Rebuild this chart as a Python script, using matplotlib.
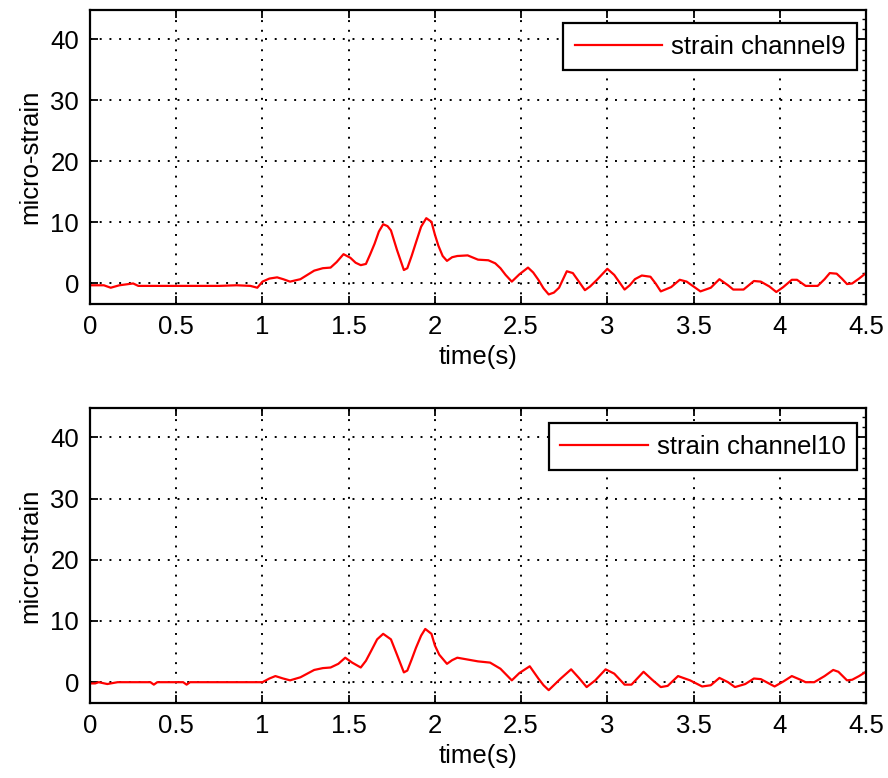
import matplotlib
matplotlib.use("Agg")
import matplotlib.pyplot as plt
from matplotlib.ticker import MultipleLocator

plt.rcParams['font.family'] = ['Liberation Sans', 'DejaVu Sans']

t9 = [0.00, 0.08, 0.12, 0.17, 0.25, 0.28, 0.5, 0.75, 0.85, 0.93, 0.97, 1.00, 1.04, 1.085, 1.12,
      1.16, 1.22, 1.26, 1.30, 1.35, 1.395, 1.43, 1.47, 1.51, 1.54, 1.57, 1.60, 1.625, 1.65, 1.675,
      1.70, 1.725, 1.745, 1.78, 1.82, 1.84, 1.865, 1.89, 1.92, 1.95, 1.98, 2.0, 2.02, 2.045, 2.07,
      2.10, 2.13, 2.19, 2.25, 2.31, 2.35, 2.38, 2.41, 2.446, 2.49, 2.54, 2.57, 2.60, 2.63, 2.66,
      2.69, 2.72, 2.745, 2.765, 2.80, 2.835, 2.87, 2.90, 2.94, 2.97, 3.0, 3.04, 3.07, 3.1, 3.13,
      3.16, 3.2, 3.25, 3.28, 3.31, 3.37, 3.42, 3.46, 3.5, 3.54, 3.6, 3.65, 3.7, 3.73, 3.79,
      3.85, 3.89, 3.94, 3.98, 4.02, 4.07, 4.1, 4.15, 4.22, 4.26, 4.29, 4.33, 4.36, 4.39, 4.42,
      4.46, 4.5]
y9 = [-0.3, -0.3, -0.7, -0.3, 0.0, -0.4, -0.4, -0.4, -0.3, -0.4, -0.7, 0.3, 0.8, 1.0, 0.7,
      0.3, 0.7, 1.4, 2.1, 2.5, 2.6, 3.5, 4.8, 4.2, 3.4, 3.0, 3.2, 4.8, 6.5, 8.5,
      9.7, 9.4, 8.7, 5.5, 2.2, 2.5, 4.5, 6.7, 9.3, 10.7, 10.1, 8.0, 6.2, 4.5, 3.7,
      4.3, 4.5, 4.6, 3.9, 3.8, 3.3, 2.5, 1.4, 0.3, 1.5, 2.6, 1.8, 0.6, -0.8, -1.8,
      -1.5, -0.7, 0.8, 2.0, 1.7, 0.3, -1.1, -0.5, 0.6, 1.5, 2.4, 1.4, 0.2, -1.0, -0.3,
      0.7, 1.3, 1.1, 0.0, -1.3, -0.6, 0.6, 0.3, -0.5, -1.3, -0.7, 0.7, -0.3, -1.0, -1.0,
      0.4, 0.3, -0.5, -1.4, -0.6, 0.6, 0.6, -0.4, -0.4, 0.7, 1.7, 1.6, 0.8, -0.1, 0.0,
      0.8, 1.7]

t10 = [0.0, 0.03, 0.05, 0.1, 0.16, 0.35, 0.37, 0.39, 0.54, 0.56, 0.58, 1.0, 1.04, 1.075, 1.12,
       1.16, 1.22, 1.26, 1.30, 1.35, 1.395, 1.44, 1.48, 1.52, 1.57, 1.60, 1.63, 1.665, 1.70, 1.745,
       1.78, 1.82, 1.84, 1.865, 1.89, 1.92, 1.944, 1.98, 2.0, 2.025, 2.07, 2.10, 2.13, 2.19, 2.25,
       2.32, 2.38, 2.446, 2.49, 2.55, 2.60, 2.63, 2.66, 2.73, 2.79, 2.835, 2.88, 2.93, 2.99, 3.04,
       3.1, 3.14, 3.21, 3.26, 3.31, 3.35, 3.41, 3.48, 3.55, 3.6, 3.65, 3.7, 3.74, 3.8, 3.85,
       3.89, 3.97, 4.02, 4.07, 4.12, 4.15, 4.2, 4.26, 4.31, 4.34, 4.39, 4.42, 4.46, 4.5]
y10 = [-0.2, -0.2, 0.0, -0.3, 0.0, 0.0, -0.4, 0.0, 0.0, -0.4, 0.0, 0.0, 0.6, 1.0, 0.6,
       0.3, 0.8, 1.4, 2.0, 2.3, 2.4, 3.0, 4.0, 3.2, 2.4, 3.5, 5.1, 7.0, 7.9, 7.0,
       4.5, 1.6, 1.9, 3.7, 5.6, 7.6, 8.7, 7.9, 6.0, 4.5, 3.0, 3.6, 4.0, 3.7, 3.4,
       3.2, 2.2, 0.3, 1.5, 2.6, 0.6, -0.5, -1.3, 0.6, 2.1, 0.7, -0.8, 0.3, 2.1, 1.4,
       -0.4, -0.4, 1.7, 0.4, -0.8, -0.6, 1.0, 0.3, -0.7, -0.5, 0.7, 0.0, -0.8, -0.3, 0.6,
       0.5, -0.7, 0.1, 1.0, 0.4, 0.0, 0.0, 1.0, 2.0, 1.7, 0.3, 0.4, 1.0, 1.7]

xticks = [0, 0.5, 1, 1.5, 2, 2.5, 3, 3.5, 4, 4.5]
xticklabels = ['0', '0.5', '1', '1.5', '2', '2.5', '3', '3.5', '4', '4.5']
yticks = [0, 10, 20, 30, 40]

series = [(t9, y9, 'strain channel9'), (t10, y10, 'strain channel10')]
boxes = [(0.1014, 0.609, 0.8738, 0.378), (0.1014, 0.0964, 0.8738, 0.3792)]
leg_y = [0.956, 0.949]

fig = plt.figure(figsize=(8.88, 7.78), dpi=100)
for (t, y, lab), box, ly in zip(series, boxes, leg_y):
    ax = fig.add_axes(box)
    ax.plot(t, y, color='#ff0000', lw=1.6, label=lab)
    ax.set_xlim(0, 4.5)
    ax.set_ylim(-3.4, 44.8)
    ax.set_xticks(xticks)
    ax.set_xticklabels(xticklabels)
    ax.set_yticks(yticks)
    ax.yaxis.set_minor_locator(MultipleLocator(10 / 6))
    ax.grid(True, which='major', color='black', linestyle=(0, (1, 4)), linewidth=1.4)
    ax.tick_params(which='major', direction='in', length=6, width=1.3,
                   top=True, right=True, labelsize=18.5, pad=8, colors='black')
    ax.tick_params(which='minor', direction='in', length=3, width=1.0,
                   left=False, right=True, top=False, bottom=False)
    for s in ax.spines.values():
        s.set_linewidth(1.6)
    ax.set_xlabel('time(s)', fontsize=18.5, labelpad=4)
    ax.set_ylabel('micro-strain', fontsize=18.5, labelpad=6)
    leg = ax.legend(loc='upper right', bbox_to_anchor=(0.9884, ly), borderaxespad=0,
                    fontsize=18.5, fancybox=False, framealpha=1, edgecolor='black',
                    handlelength=3.4, handletextpad=0.35, borderpad=0.45)
    leg.get_frame().set_linewidth(1.6)

fig.savefig('out.png', dpi=100)
